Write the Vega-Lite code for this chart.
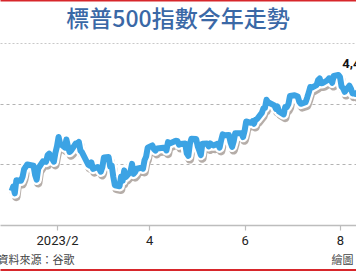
{
  "$schema": "https://vega.github.io/schema/vega-lite/v6.json",
  "autosize": "none",
  "width": 356,
  "height": 182,
  "padding": {"top": 43, "left": 0, "right": 0, "bottom": 47},
  "background": "white",
  "title": {
    "text": "標普500指數今年走勢",
    "anchor": "middle",
    "offset": -32,
    "fontSize": 23,
    "font": "Noto Sans CJK TC",
    "fontWeight": 500,
    "color": "#3a68a6"
  },
  "config": {
    "view": {"stroke": null},
    "font": "Noto Sans CJK TC"
  },
  "data": {
    "values": [
      {"date": "2023-01-03", "close": 3824.14},
      {"date": "2023-01-04", "close": 3852.97},
      {"date": "2023-01-05", "close": 3808.10},
      {"date": "2023-01-06", "close": 3895.08},
      {"date": "2023-01-09", "close": 3892.09},
      {"date": "2023-01-10", "close": 3919.25},
      {"date": "2023-01-11", "close": 3969.61},
      {"date": "2023-01-12", "close": 3983.17},
      {"date": "2023-01-13", "close": 3999.09},
      {"date": "2023-01-17", "close": 3990.97},
      {"date": "2023-01-18", "close": 3928.86},
      {"date": "2023-01-19", "close": 3898.85},
      {"date": "2023-01-20", "close": 3972.61},
      {"date": "2023-01-23", "close": 4019.81},
      {"date": "2023-01-24", "close": 4016.95},
      {"date": "2023-01-25", "close": 4016.22},
      {"date": "2023-01-26", "close": 4060.43},
      {"date": "2023-01-27", "close": 4070.56},
      {"date": "2023-01-30", "close": 4017.77},
      {"date": "2023-01-31", "close": 4076.60},
      {"date": "2023-02-01", "close": 4119.21},
      {"date": "2023-02-02", "close": 4179.76},
      {"date": "2023-02-03", "close": 4136.48},
      {"date": "2023-02-06", "close": 4111.08},
      {"date": "2023-02-07", "close": 4164.00},
      {"date": "2023-02-08", "close": 4117.86},
      {"date": "2023-02-09", "close": 4081.50},
      {"date": "2023-02-10", "close": 4090.46},
      {"date": "2023-02-13", "close": 4137.29},
      {"date": "2023-02-14", "close": 4136.13},
      {"date": "2023-02-15", "close": 4147.60},
      {"date": "2023-02-16", "close": 4090.41},
      {"date": "2023-02-17", "close": 4079.09},
      {"date": "2023-02-21", "close": 3997.34},
      {"date": "2023-02-22", "close": 3991.05},
      {"date": "2023-02-23", "close": 4012.32},
      {"date": "2023-02-24", "close": 3970.04},
      {"date": "2023-02-27", "close": 3982.24},
      {"date": "2023-02-28", "close": 3970.15},
      {"date": "2023-03-01", "close": 3951.39},
      {"date": "2023-03-02", "close": 3981.35},
      {"date": "2023-03-03", "close": 4045.64},
      {"date": "2023-03-06", "close": 4048.42},
      {"date": "2023-03-07", "close": 3986.37},
      {"date": "2023-03-08", "close": 3992.01},
      {"date": "2023-03-09", "close": 3918.32},
      {"date": "2023-03-10", "close": 3861.59},
      {"date": "2023-03-13", "close": 3855.76},
      {"date": "2023-03-14", "close": 3919.29},
      {"date": "2023-03-15", "close": 3891.93},
      {"date": "2023-03-16", "close": 3960.28},
      {"date": "2023-03-17", "close": 3916.64},
      {"date": "2023-03-20", "close": 3951.57},
      {"date": "2023-03-21", "close": 4002.87},
      {"date": "2023-03-22", "close": 3936.97},
      {"date": "2023-03-23", "close": 3948.72},
      {"date": "2023-03-24", "close": 3970.99},
      {"date": "2023-03-27", "close": 3977.53},
      {"date": "2023-03-28", "close": 3971.27},
      {"date": "2023-03-29", "close": 4027.81},
      {"date": "2023-03-30", "close": 4050.83},
      {"date": "2023-03-31", "close": 4109.31},
      {"date": "2023-04-03", "close": 4124.51},
      {"date": "2023-04-04", "close": 4100.60},
      {"date": "2023-04-05", "close": 4090.38},
      {"date": "2023-04-06", "close": 4105.02},
      {"date": "2023-04-10", "close": 4109.11},
      {"date": "2023-04-11", "close": 4108.94},
      {"date": "2023-04-12", "close": 4091.95},
      {"date": "2023-04-13", "close": 4146.22},
      {"date": "2023-04-14", "close": 4137.64},
      {"date": "2023-04-17", "close": 4151.32},
      {"date": "2023-04-18", "close": 4154.87},
      {"date": "2023-04-19", "close": 4154.52},
      {"date": "2023-04-20", "close": 4129.79},
      {"date": "2023-04-21", "close": 4133.52},
      {"date": "2023-04-24", "close": 4137.04},
      {"date": "2023-04-25", "close": 4071.63},
      {"date": "2023-04-26", "close": 4055.99},
      {"date": "2023-04-27", "close": 4135.35},
      {"date": "2023-04-28", "close": 4169.48},
      {"date": "2023-05-01", "close": 4167.87},
      {"date": "2023-05-02", "close": 4119.58},
      {"date": "2023-05-03", "close": 4090.75},
      {"date": "2023-05-04", "close": 4061.22},
      {"date": "2023-05-05", "close": 4136.25},
      {"date": "2023-05-08", "close": 4138.12},
      {"date": "2023-05-09", "close": 4119.17},
      {"date": "2023-05-10", "close": 4137.64},
      {"date": "2023-05-11", "close": 4130.62},
      {"date": "2023-05-12", "close": 4124.08},
      {"date": "2023-05-15", "close": 4136.28},
      {"date": "2023-05-16", "close": 4109.90},
      {"date": "2023-05-17", "close": 4158.77},
      {"date": "2023-05-18", "close": 4198.05},
      {"date": "2023-05-19", "close": 4191.98},
      {"date": "2023-05-22", "close": 4192.63},
      {"date": "2023-05-23", "close": 4145.58},
      {"date": "2023-05-24", "close": 4115.24},
      {"date": "2023-05-25", "close": 4151.28},
      {"date": "2023-05-26", "close": 4205.45},
      {"date": "2023-05-30", "close": 4205.52},
      {"date": "2023-05-31", "close": 4179.83},
      {"date": "2023-06-01", "close": 4221.02},
      {"date": "2023-06-02", "close": 4282.37},
      {"date": "2023-06-05", "close": 4273.79},
      {"date": "2023-06-06", "close": 4283.85},
      {"date": "2023-06-07", "close": 4267.52},
      {"date": "2023-06-08", "close": 4293.93},
      {"date": "2023-06-09", "close": 4298.86},
      {"date": "2023-06-12", "close": 4338.93},
      {"date": "2023-06-13", "close": 4369.01},
      {"date": "2023-06-14", "close": 4372.59},
      {"date": "2023-06-15", "close": 4425.84},
      {"date": "2023-06-16", "close": 4409.59},
      {"date": "2023-06-20", "close": 4388.71},
      {"date": "2023-06-21", "close": 4365.69},
      {"date": "2023-06-22", "close": 4381.89},
      {"date": "2023-06-23", "close": 4348.33},
      {"date": "2023-06-26", "close": 4328.82},
      {"date": "2023-06-27", "close": 4378.41},
      {"date": "2023-06-28", "close": 4376.86},
      {"date": "2023-06-29", "close": 4396.44},
      {"date": "2023-06-30", "close": 4450.38},
      {"date": "2023-07-03", "close": 4455.59},
      {"date": "2023-07-05", "close": 4446.82},
      {"date": "2023-07-06", "close": 4411.59},
      {"date": "2023-07-07", "close": 4398.95},
      {"date": "2023-07-10", "close": 4409.53},
      {"date": "2023-07-11", "close": 4439.26},
      {"date": "2023-07-12", "close": 4472.16},
      {"date": "2023-07-13", "close": 4510.04},
      {"date": "2023-07-14", "close": 4505.42},
      {"date": "2023-07-17", "close": 4522.79},
      {"date": "2023-07-18", "close": 4554.98},
      {"date": "2023-07-19", "close": 4565.72},
      {"date": "2023-07-20", "close": 4534.87},
      {"date": "2023-07-21", "close": 4536.34},
      {"date": "2023-07-24", "close": 4554.64},
      {"date": "2023-07-25", "close": 4567.46},
      {"date": "2023-07-26", "close": 4566.75},
      {"date": "2023-07-27", "close": 4537.41},
      {"date": "2023-07-28", "close": 4582.23},
      {"date": "2023-07-31", "close": 4588.96},
      {"date": "2023-08-01", "close": 4576.73},
      {"date": "2023-08-02", "close": 4513.39},
      {"date": "2023-08-03", "close": 4501.89},
      {"date": "2023-08-04", "close": 4478.03},
      {"date": "2023-08-07", "close": 4518.44},
      {"date": "2023-08-08", "close": 4499.38},
      {"date": "2023-08-09", "close": 4467.71},
      {"date": "2023-08-10", "close": 4468.83},
      {"date": "2023-08-11", "close": 4464.05},
      {"date": "2023-08-14", "close": 4489.72},
      {"date": "2023-08-15", "close": 4437.86, "label": "4,437"}
    ]
  },
  "resolve": {"axis": {"x": "independent"}},
  "encoding": {
    "y": {
      "field": "close",
      "type": "quantitative",
      "scale": {"domain": [3600, 4800], "nice": false, "zero": false},
      "axis": {
        "values": [4000, 4400, 4800],
        "labels": false,
        "ticks": false,
        "domain": false,
        "grid": true,
        "gridColor": {"condition": {"test": "datum.value == 4800", "value": "#c8c8c8"}, "value": "#b3b3b3"},
        "gridDash": {"condition": {"test": "datum.value == 4800", "value": [2, 2]}, "value": [3, 3]},
        "gridWidth": 1,
        "title": "繪圖：吳伯維",
        "titleAngle": 0,
        "titleAlign": "left",
        "titleBaseline": "middle",
        "titleFontSize": 11,
        "titleFontWeight": "normal",
        "titleColor": "#444444",
        "titleX": 331,
        "titleY": 217
      }
    }
  },
  "layer": [
    {
      "mark": {"type": "line", "clip": true, "color": "#5b4a3f", "opacity": 0.45, "strokeWidth": 8.5, "xOffset": 1.5, "yOffset": 3.5, "strokeJoin": "round"},
      "encoding": {
        "x": {
          "field": "date",
          "type": "temporal",
          "scale": {"domain": [{"year": 2022, "month": 12, "date": 26, "hours": 13}, {"year": 2023, "month": 8, "date": 11, "hours": 6}]},
          "axis": {
            "orient": "bottom",
            "offset": 44.5,
            "labels": false,
            "ticks": false,
            "grid": false,
            "title": null,
            "domainColor": "#d7262b",
            "domainWidth": 2
          }
        }
      }
    },
    {
      "mark": {"type": "line", "clip": true, "color": "#ffffff", "strokeWidth": 10.5, "strokeJoin": "round"},
      "encoding": {
        "x": {"field": "date", "type": "temporal", "axis": null}
      }
    },
    {
      "mark": {"type": "line", "clip": true, "color": "#3ca3e4", "strokeWidth": 6, "strokeJoin": "round"},
      "encoding": {
        "x": {
          "field": "date",
          "type": "temporal",
          "axis": {
            "orient": "bottom",
            "values": [{"year": 2023, "month": 2, "date": 1}, {"year": 2023, "month": 4, "date": 1}, {"year": 2023, "month": 6, "date": 1}, {"year": 2023, "month": 8, "date": 1}],
            "labelExpr": "month(datum.value) == 1 ? '2023/2' : '' + (month(datum.value) + 1)",
            "grid": false,
            "domainColor": "#bdbdbd",
            "domainWidth": 1.5,
            "tickColor": "#bdbdbd",
            "tickWidth": 1.2,
            "tickSize": 5,
            "labelFontSize": 13,
            "labelColor": "#222222",
            "labelPadding": 4,
            "labelFont": "Roboto",
            "title": "資料來源：谷歌",
            "titleAnchor": "start",
            "titleFontSize": 11,
            "titleFontWeight": "normal",
            "titleColor": "#444444",
            "titleAlign": "left",
            "titleBaseline": "middle",
            "titleX": -3,
            "titleY": 35
          }
        }
      }
    },
    {
      "transform": [{"filter": "datum.label != null"}],
      "mark": {"type": "text", "clip": true, "fontSize": 13, "fontWeight": "bold", "font": "Roboto", "color": "#111111", "dy": -34, "dx": -3},
      "encoding": {
        "x": {
          "field": "date",
          "type": "temporal",
          "axis": {
            "orient": "top",
            "offset": 43,
            "labels": false,
            "ticks": false,
            "grid": false,
            "title": null,
            "domainColor": "#d7262b",
            "domainWidth": 2
          }
        },
        "text": {"field": "label"}
      }
    }
  ]
}
